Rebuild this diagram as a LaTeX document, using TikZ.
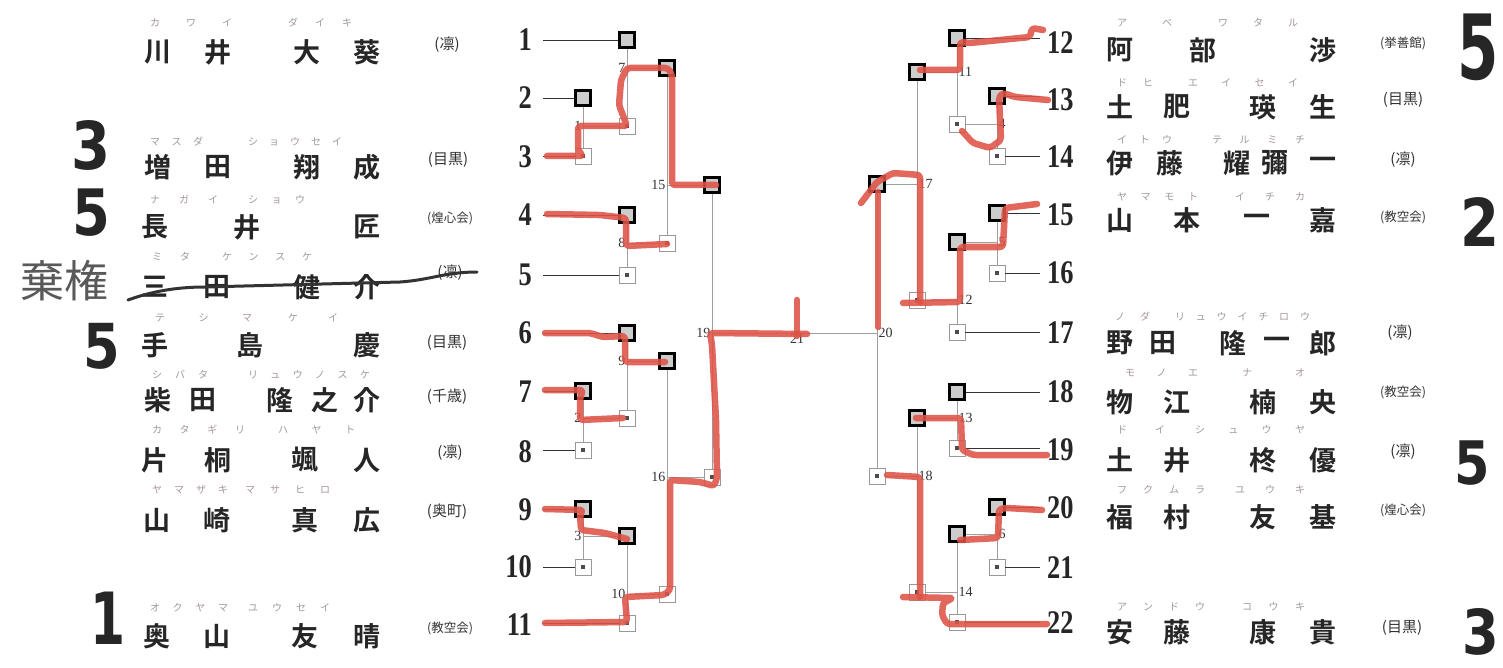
\documentclass[tikz,border=0pt]{standalone}
\usepackage{graphicx}
\usepackage{fontspec}
\newfontfamily\cjk{Noto Sans CJK JP}
\newfontfamily\cjkb{Noto Sans CJK JP Bold}
\newfontfamily\hand{DejaVu Sans}
\newfontfamily\numf{Liberation Serif}
\usetikzlibrary{calc}
\definecolor{redpen}{RGB}{222,82,70}
\definecolor{furic}{RGB}{165,150,155}
\tikzset{
 kanji/.style={font=\cjkb\fontsize{27}{27}\selectfont, inner sep=0, text=black!85},
 furi/.style={font=\cjk\fontsize{10}{10}\selectfont, inner sep=0, text=furic},
 club/.style={font=\cjk\fontsize{#1}{#1}\selectfont, inner sep=0, text=black!80},
 club/.default=13,
 pnum/.style={font=\numf\bfseries\fontsize{33}{33}\selectfont, inner sep=0, text=black!85},
 mlab/.style={font=\numf\fontsize{14}{14}\selectfont, inner sep=1.5pt, text=black!80},
 sqb/.style={draw=black, line width=2.2pt, fill=gray!40, minimum size=15pt, inner sep=0},
 sqw/.style={draw=gray!80, line width=0.8pt, fill=white, minimum size=16pt, inner sep=0},
 pline/.style={black!80, line width=0.9pt},
 vline/.style={gray!75, line width=0.9pt},
 redmark/.style={redpen, line width=6.5pt, line cap=round, line join=round, rounded corners=3pt, opacity=0.88},
 hw/.style={font=\hand\bfseries\fontsize{#1}{#1}\selectfont, inner sep=0, text=black!85}
}
\newcommand\mk{\textcolor{black!70}{\rule{4.5pt}{4.5pt}}}
\newcommand\furi[5]{\node[furi] (#1) at ({(#3+#4)/2},#2) {\makebox[\dimexpr #4pt-#3pt+10pt\relax][s]{#5}};}
\begin{document}
\begin{tikzpicture}[x=1pt,y=-1pt]
\useasboundingbox (0,0) rectangle (1503,668);
\fill[white] (0,0) rectangle (1503,668);
\coordinate (LS) at (543,0);
\coordinate (RS) at (1040,0);
\coordinate (fin) at (797,333);

% ---- player numbers
\foreach \n/\y in {1/40,2/98,3/157,4/215,5/275,6/333,7/392,8/452,9/510,10/567,11/625}
  \node[pnum,anchor=east] (n\n) at (532,\y) {\scalebox{0.8}[1]{\n}};
\foreach \n/\y in {12/43,13/100,14/157,15/215,16/273,17/333,18/392,19/450,20/508,21/568,22/623}
  \node[pnum,anchor=west] (n\n) at (1047,\y) {\scalebox{0.8}[1]{\n}};

% ---- squares left
\node[sqb] (sq1) at (627,40) {};
\node[sqb] (sq2) at (583,98) {};
\node[sqw] (sq3) at (583,156) {\mk};
\node[sqw] (m7b) at (627,126) {\mk};
\node[sqb] (m15t) at (667,68) {};
\node[sqb] (sq4) at (627,215) {};
\node[sqw] (sq5) at (627,275) {\mk};
\node[sqw] (m15b) at (667,243) {\mk};
\node[sqb] (m19t) at (712,185) {};
\node[sqb] (sq6) at (627,333) {};
\node[sqb] (m16t) at (667,361) {};
\node[sqb] (sq7) at (583,391) {};
\node[sqw] (sq8) at (583,450) {\mk};
\node[sqw] (m9b) at (627,418) {\mk};
\node[sqw] (m19b) at (712,477) {\mk};
\node[sqb] (sq9) at (583,509) {};
\node[sqw] (sq10) at (583,567) {\mk};
\node[sqb] (m10t) at (627,536) {};
\node[sqw] (sq11) at (627,623) {\mk};
\node[sqw] (m16b) at (667,594) {\mk};
% ---- squares right
\node[sqb] (sq12) at (957,38) {};
\node[sqb] (m17t) at (917,72) {};
\node[sqb] (sq13) at (997,96) {};
\node[sqw] (m11b) at (957,124) {\mk};
\node[sqw] (sq14) at (997,156) {\mk};
\node[sqb] (m20t) at (877,184) {};
\node[sqb] (sq15) at (997,213) {};
\node[sqb] (m12t) at (957,242) {};
\node[sqw] (sq16) at (997,273) {\mk};
\node[sqw] (m17b) at (917,300) {\mk};
\node[sqw] (sq17) at (957,332) {\mk};
\node[sqb] (sq18) at (957,392) {};
\node[sqb] (m18t) at (917,418) {};
\node[sqw] (sq19) at (957,448) {\mk};
\node[sqw] (m20b) at (877,476) {\mk};
\node[sqb] (sq20) at (997,507) {};
\node[sqb] (m14t) at (957,534) {};
\node[sqw] (sq21) at (997,567) {\mk};
\node[sqw] (m18b) at (917,592) {\mk};
\node[sqw] (sq22) at (957,622) {\mk};

% ---- player lines
\foreach \s in {sq1,sq2,sq3,sq4,sq5,sq6,sq7,sq8,sq9,sq10,sq11}
  \draw[pline] (\s.west) -- (\s.west -| LS);
\foreach \s in {sq12,sq13,sq14,sq15,sq16,sq17,sq18,sq19,sq20,sq21,sq22}
  \draw[pline] (\s.east) -- (\s.east -| RS);

% ---- match verticals
\foreach \a/\b in {sq2/sq3,sq1/m7b,sq4/sq5,m15t/m15b,m19t/m19b,sq6/m9b,sq7/sq8,sq9/sq10,m10t/sq11,m16t/m16b,
  sq12/m11b,sq13/sq14,m17t/m17b,sq15/sq16,m12t/sq17,sq18/sq19,m18t/m18b,sq20/sq21,m14t/sq22,m20t/m20b}
  \draw[vline] (\a.south) -- (\b.north);

% ---- winner lines
\foreach \t/\f in {m7b/sq2,m15t/sq1,m15b/sq4,m19t/m15t,m9b/sq7,m16t/sq6,m10t/sq9,m16b/m10t,m19b/m16t}
  \draw[vline] (\t.west) -- (\t.west -| \f);
\foreach \t/\f in {m11b/sq13,m17t/sq12,m12t/sq15,m17b/m12t,m20t/m17t,m18t/sq18,m14t/sq20,m18b/m14t,m20b/m18t}
  \draw[vline] (\t.east) -- (\t.east -| \f);
\draw[vline] (fin -| m19t) -- (fin -| m20t);

% ---- match numbers
\foreach \t/\f/\l in {m7b/sq2/1,m15t/sq1/7,m15b/sq4/8,m19t/m15t/15,m9b/sq7/2,m16t/sq6/9,m10t/sq9/3,m16b/m10t/10,m19b/m16t/16}
  \node[mlab,anchor=east] (lab\l) at (\t -| \f) {\l};
\foreach \t/\f/\l in {m11b/sq13/4,m17t/sq12/11,m12t/sq15/5,m17b/m12t/12,m20t/m17t/17,m18t/sq18/13,m14t/sq20/6,m18b/m14t/14,m20b/m18t/18}
  \node[mlab,anchor=west] (lab\l) at (\t -| \f) {\l};
\node[mlab,anchor=east] (lab19) at (fin -| m19t) {19};
\node[mlab,anchor=west] (lab20) at (fin -| m20t) {20};
\node[mlab,anchor=north] (lab21) at (fin) {21};

% ---- names left
\foreach \x/\cc [count=\i] in {158/川,218/井,307/大,367/葵} \node[kanji] (a1-\i) at (\x,52) {\cc};
\foreach \x/\cc [count=\i] in {158/増,218/田,307/翔,367/成} \node[kanji] (a3-\i) at (\x,167) {\cc};
\foreach \x/\cc [count=\i] in {155/長,247/井,367/匠} \node[kanji] (a4-\i) at (\x,227) {\cc};
\foreach \x/\cc [count=\i] in {155/三,217/田,307/健,367/介} \node[kanji] (a5-\i) at (\x,287) {\cc};
\foreach \x/\cc [count=\i] in {155/手,250/島,367/慶} \node[kanji] (a6-\i) at (\x,345) {\cc};
\foreach \x/\cc [count=\i] in {158/柴,203/田,280/隆,325/之,367/介} \node[kanji] (a7-\i) at (\x,400) {\cc};
\foreach \x/\cc [count=\i] in {155/片,218/桐,305/颯,367/人} \node[kanji] (a8-\i) at (\x,460) {\cc};
\foreach \x/\cc [count=\i] in {157/山,217/崎,305/真,367/広} \node[kanji] (a9-\i) at (\x,520) {\cc};
\foreach \x/\cc [count=\i] in {157/奥,217/山,305/友,367/晴} \node[kanji] (a11-\i) at (\x,636) {\cc};
% ---- names right
\foreach \x/\cc [count=\i] in {1120/阿,1203/部,1323/渉} \node[kanji] (a12-\i) at (\x,50) {\cc};
\foreach \x/\cc [count=\i] in {1120/土,1177/肥,1263/瑛,1323/生} \node[kanji] (a13-\i) at (\x,107) {\cc};
\foreach \x/\cc [count=\i] in {1120/伊,1170/藤,1237/耀,1275/彌,1323/一} \node[kanji] (a14-\i) at (\x,163) {\cc};
\foreach \x/\cc [count=\i] in {1120/山,1187/本,1257/一,1323/嘉} \node[kanji] (a15-\i) at (\x,220) {\cc};
\foreach \x/\cc [count=\i] in {1120/野,1163/田,1233/隆,1277/一,1323/郎} \node[kanji] (a17-\i) at (\x,343) {\cc};
\foreach \x/\cc [count=\i] in {1120/物,1177/江,1263/楠,1323/央} \node[kanji] (a18-\i) at (\x,402) {\cc};
\foreach \x/\cc [count=\i] in {1120/土,1177/井,1263/柊,1323/優} \node[kanji] (a19-\i) at (\x,460) {\cc};
\foreach \x/\cc [count=\i] in {1120/福,1177/村,1263/友,1323/基} \node[kanji] (a20-\i) at (\x,517) {\cc};
\foreach \x/\cc [count=\i] in {1120/安,1177/藤,1263/康,1323/貴} \node[kanji] (a22-\i) at (\x,632) {\cc};

% ---- furigana
\furi{f1a}{23}{155}{227}{カ\hfill ワ\hfill イ}
\furi{f1b}{23}{293}{347}{ダ\hfill イ\hfill キ}
\furi{f3a}{142}{155}{198}{マ\hfill ス\hfill ダ}
\furi{f3b}{142}{253}{337}{シ\hfill ョ\hfill ウ\hfill セ\hfill イ}
\furi{f4a}{200}{155}{213}{ナ\hfill ガ\hfill イ}
\furi{f4b}{200}{253}{300}{シ\hfill ョ\hfill ウ}
\furi{f5a}{257}{157}{185}{ミ\hfill タ}
\furi{f5b}{257}{227}{307}{ケ\hfill ン\hfill ス\hfill ケ}
\furi{f6a}{318}{160}{247}{テ\hfill シ\hfill マ}
\furi{f6b}{318}{293}{333}{ケ\hfill イ}
\furi{f7a}{375}{157}{203}{シ\hfill バ\hfill タ}
\furi{f7b}{375}{253}{365}{リ\hfill ュ\hfill ウ\hfill ノ\hfill ス\hfill ケ}
\furi{f8a}{430}{157}{240}{カ\hfill タ\hfill ギ\hfill リ}
\furi{f8b}{430}{283}{350}{ハ\hfill ヤ\hfill ト}
\furi{f9a}{490}{157}{223}{ヤ\hfill マ\hfill ザ\hfill キ}
\furi{f9b}{490}{250}{325}{マ\hfill サ\hfill ヒ\hfill ロ}
\furi{f11a}{608}{155}{223}{オ\hfill ク\hfill ヤ\hfill マ}
\furi{f11b}{608}{253}{325}{ユ\hfill ウ\hfill セ\hfill イ}
\furi{f12a}{23}{1122}{1167}{ア\hfill ベ}
\furi{f12b}{23}{1223}{1293}{ワ\hfill タ\hfill ル}
\furi{f13a}{83}{1122}{1148}{ド\hfill ヒ}
\furi{f13b}{83}{1193}{1293}{エ\hfill イ\hfill セ\hfill イ}
\furi{f14a}{140}{1122}{1167}{イ\hfill ト\hfill ウ}
\furi{f14b}{140}{1217}{1300}{テ\hfill ル\hfill ミ\hfill チ}
\furi{f15a}{197}{1122}{1193}{ヤ\hfill マ\hfill モ\hfill ト}
\furi{f15b}{197}{1240}{1300}{イ\hfill チ\hfill カ}
\furi{f17a}{317}{1120}{1145}{ノ\hfill ダ}
\furi{f17b}{317}{1180}{1305}{リ\hfill ュ\hfill ウ\hfill イ\hfill チ\hfill ロ\hfill ウ}
\furi{f18a}{373}{1130}{1193}{モ\hfill ノ\hfill エ}
\furi{f18b}{373}{1247}{1300}{ナ\hfill オ}
\furi{f19a}{430}{1122}{1160}{ド\hfill イ}
\furi{f19b}{430}{1200}{1300}{シ\hfill ュ\hfill ウ\hfill ヤ}
\furi{f20a}{490}{1122}{1200}{フ\hfill ク\hfill ム\hfill ラ}
\furi{f20b}{490}{1240}{1300}{ユ\hfill ウ\hfill キ}
\furi{f22a}{607}{1122}{1200}{ア\hfill ン\hfill ド\hfill ウ}
\furi{f22b}{607}{1247}{1300}{コ\hfill ウ\hfill キ}

% ---- clubs
\node[club=15] (c1) at (447,45) {(凛)};
\node[club=15] (c3) at (448,160) {(目黒)};
\node[club=12.5] (c4) at (450,218) {(煌心会)};
\node[club=15] (c5) at (450,273) {(凛)};
\node[club=15] (c6) at (447,343) {(目黒)};
\node[club=15] (c7) at (447,397) {(千歳)};
\node[club=15] (c8) at (450,453) {(凛)};
\node[club=15] (c9) at (447,512) {(奥町)};
\node[club=12.5] (c11) at (450,628) {(教空会)};
\node[club=12.5] (c12) at (1403,43) {(挙善館)};
\node[club=15] (c13) at (1403,100) {(目黒)};
\node[club=15] (c14) at (1403,160) {(凛)};
\node[club=12.5] (c15) at (1403,217) {(教空会)};
\node[club=15] (c17) at (1400,333) {(凛)};
\node[club=12.5] (c18) at (1403,392) {(教空会)};
\node[club=15] (c19) at (1403,452) {(凛)};
\node[club=12.5] (c20) at (1403,510) {(煌心会)};
\node[club=15] (c22) at (1402,628) {(目黒)};

% ---- red pen overlay
\draw[redmark] (547,156) -- (583,156) -- (578,150) -- (578,126) -- (627,126) -- (619,105) -- (621,80) -- (627,68) -- (668,68) -- (672,75) -- (672,185) -- (716,185);
\draw[redmark] (547,214) -- (600,215) -- (626,218) -- (626,246) -- (667,244);
\draw[redmark] (545,333) -- (590,333) -- (603,337) -- (625,336) -- (625,362) -- (665,362);
\draw[redmark] (545,390) -- (583,390) -- (580,398) -- (580,420) -- (623,418);
\draw[redmark] (545,509) -- (583,510) -- (580,515) -- (581,530) -- (605,533) -- (627,539);
\draw[redmark] (545,623) -- (627,622) -- (625,597) -- (664,595) -- (670,590) -- (670,480) -- (700,482) -- (714,486) -- (717,478) -- (716,420) -- (712,345) -- (710,333) -- (807,334);
\draw[redmark] (797,300) -- (797,336);
\draw[redmark] (1043,30) -- (1032,28) -- (1030,37) -- (1000,40) -- (970,43) -- (960,42) -- (960,70) -- (920,70);
\draw[redmark] (1048,100) -- (1015,97) -- (1003,93) -- (999,97) -- (1001,140) -- (990,148) -- (973,143) -- (962,131);
\draw[redmark] (1037,204) -- (1005,208) -- (1003,247) -- (960,247) -- (960,302) -- (903,303);
\draw[redmark] (920,302) -- (920,175) -- (893,173) -- (877,182) -- (861,203);
\draw[redmark] (878,192) -- (878,327);
\draw[redmark] (1047,455) -- (973,455) -- (962,450) -- (961,418) -- (916,418);
\draw[redmark] (1042,510) -- (1007,508) -- (999,509) -- (998,538) -- (960,540);
\draw[redmark] (1047,624) -- (947,624) -- (942,615) -- (943,603) -- (953,598) -- (903,597);
\draw[redmark] (920,597) -- (920,477) -- (887,475);

% ---- handwriting
\node[hw=66] (h1) at (91,145) {\scalebox{0.85}[1]{3}};
\node[hw=64] (h2) at (91,213) {\scalebox{0.85}[1]{5}};
\node[font=\cjk\fontsize{44}{44}\selectfont, text=black!65, inner sep=0] (kiken) at (64,281) {棄権};
\draw[black!80, line width=3pt, line cap=round] (128,300) .. controls (150,292) and (175,287) .. (205,287) -- (400,282) .. controls (430,280) and (445,272) .. (477,272);
\node[hw=62] (h4) at (102,346) {\scalebox{0.85}[1]{5}};
\node[hw=72] (h5) at (108,618) {\scalebox{0.7}[1]{1}};
\node[hw=90] (h6) at (1478,47) {\scalebox{0.66}[1]{5}};
\node[hw=66] (h7) at (1480,222) {\scalebox{0.85}[1]{2}};
\node[hw=60] (h8) at (1472,463) {\scalebox{0.85}[1]{5}};
\node[hw=62] (h9) at (1481,632) {\scalebox{0.85}[1]{3}};
\end{tikzpicture}
\end{document}
